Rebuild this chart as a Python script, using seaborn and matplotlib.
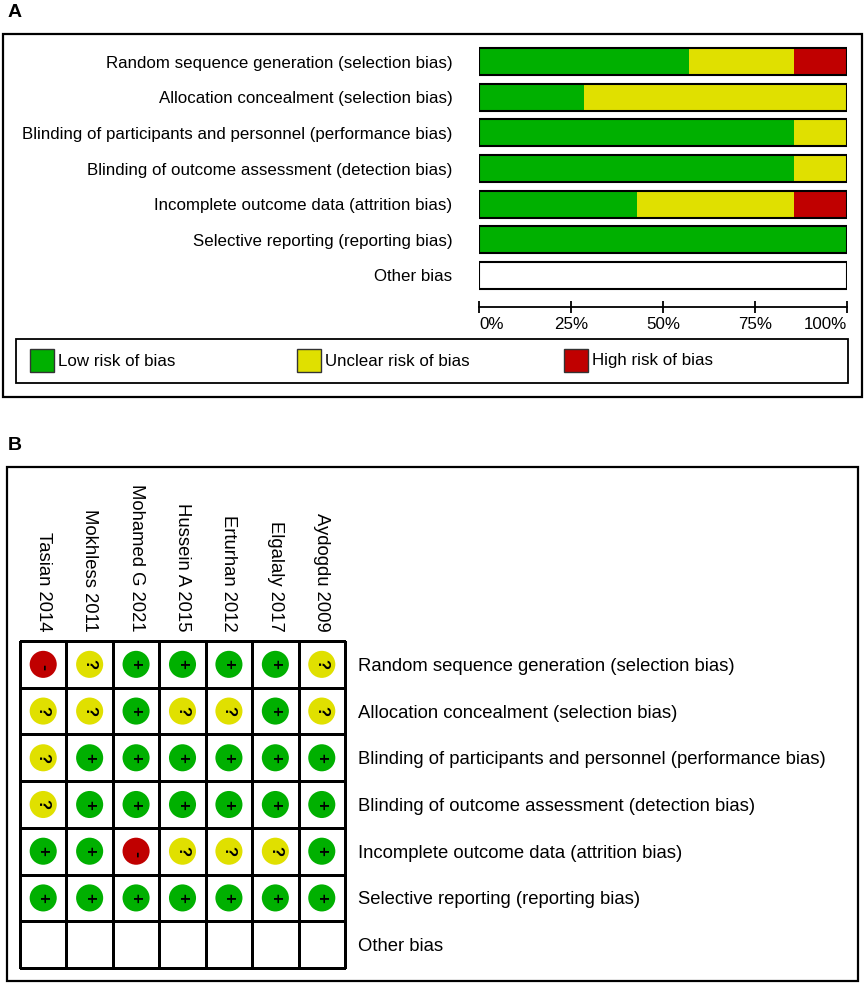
import numpy as np
import pandas as pd
import matplotlib
matplotlib.use("Agg")
import matplotlib.pyplot as plt
from matplotlib.patches import Rectangle
from matplotlib.colors import ListedColormap
import seaborn as sns

# risk of bias domains (rows) and included studies (columns)
domains = [
    "Random sequence generation (selection bias)",
    "Allocation concealment (selection bias)",
    "Blinding of participants and personnel (performance bias)",
    "Blinding of outcome assessment (detection bias)",
    "Incomplete outcome data (attrition bias)",
    "Selective reporting (reporting bias)",
    "Other bias",
]
studies = ["Tasian 2014", "Mokhless 2011", "Mohamed G 2021", "Hussein A 2015",
           "Erturhan 2012", "Elgalaly 2017", "Aydogdu 2009"]

# judgements per domain, one per study in the order above ("" = not assessed)
random_sequence = ["-", "?", "+", "+", "+", "+", "?"]
allocation = ["?", "?", "+", "?", "?", "+", "?"]
blinding_participants = ["?", "+", "+", "+", "+", "+", "+"]
blinding_outcome = ["?", "+", "+", "+", "+", "+", "+"]
incomplete_data = ["+", "+", "-", "?", "?", "?", "+"]
selective_reporting = ["+", "+", "+", "+", "+", "+", "+"]
other_bias = ["", "", "", "", "", "", ""]

judgements = [random_sequence, allocation, blinding_participants, blinding_outcome,
              incomplete_data, selective_reporting, other_bias]

legend_labels = ["Low risk of bias", "Unclear risk of bias", "High risk of bias"]
colors = {"+": "#00B000", "?": "#E0E000", "-": "#C00000"}

rows = []
for d, vals in zip(domains, judgements):
    for s, v in zip(studies, vals):
        rows.append({"domain": d, "study": s, "judgement": v})
df = pd.DataFrame(rows)

# share of studies per judgement in each domain
counts = pd.crosstab(df["domain"], df["judgement"]).reindex(domains)
for k in ["+", "?", "-"]:
    if k not in counts:
        counts[k] = 0
pct = counts[["+", "?", "-"]].div(len(studies)).mul(100).reset_index()
pct["low_unclear"] = pct["+"] + pct["?"]
pct["all"] = pct["low_unclear"] + pct["-"]

sns.set_theme(style="white")
plt.rcParams["font.family"] = ["Liberation Sans", "DejaVu Sans"]
plt.rcParams["text.color"] = "black"
plt.rcParams["xtick.color"] = "black"
plt.rcParams["ytick.color"] = "black"
plt.rcParams["axes.labelcolor"] = "black"

W, H = 864, 984
fig = plt.figure(figsize=(W / 100, H / 100), dpi=100)


def px_axes(x0, y0, x1, y1):
    return fig.add_axes([x0 / W, 1 - y1 / H, (x1 - x0) / W, (y1 - y0) / H])


canvas = fig.add_axes([0, 0, 1, 1])
canvas.set_xlim(0, W)
canvas.set_ylim(H, 0)
canvas.axis("off")

# panel frames and letters
canvas.add_patch(Rectangle((3, 34), 859, 363, fill=False, lw=1.6, ec="black"))
canvas.add_patch(Rectangle((7, 467), 851, 514, fill=False, lw=1.6, ec="black"))
canvas.text(8, 17, "A", fontsize=14, fontweight="bold", va="baseline")
canvas.text(8, 450, "B", fontsize=14, fontweight="bold", va="baseline")

# legend of panel A
canvas.add_patch(Rectangle((16, 339), 832, 44, fill=False, lw=1.3, ec="black"))
for x0, key, lab in zip([30, 297, 564], ["+", "?", "-"], legend_labels):
    canvas.add_patch(Rectangle((x0, 349), 24, 23, fc=colors[key], ec="#333333", lw=1))
    canvas.text(x0 + 28, 361, lab, fontsize=12.2, va="center", ha="left")

# ---- Panel A: stacked percentage bars
ax_a = px_axes(479, 44, 847, 293)
ax_a.set_facecolor("none")
sns.barplot(data=pct, y="domain", x="all", order=domains, color=colors["-"],
            orient="h", width=0.76, errorbar=None, saturation=1, linewidth=0, ax=ax_a)
sns.barplot(data=pct, y="domain", x="low_unclear", order=domains, color=colors["?"],
            orient="h", width=0.76, errorbar=None, saturation=1, linewidth=0, ax=ax_a)
sns.barplot(data=pct, y="domain", x="+", order=domains, color=colors["+"],
            orient="h", width=0.76, errorbar=None, saturation=1, linewidth=0, ax=ax_a)
ax_a.barh(np.arange(len(domains)), 100, height=0.76, facecolor="none",
          edgecolor="black", linewidth=1.5)
ax_a.set_xlim(0, 100)
ax_a.set_ylim(len(domains) - 0.5, -0.5)
ax_a.set_xlabel("")
ax_a.set_ylabel("")
for sp in ["top", "right", "left"]:
    ax_a.spines[sp].set_visible(False)
ax_a.spines["bottom"].set_position(("outward", 10))
ax_a.spines["bottom"].set_linewidth(1.3)
ax_a.spines["bottom"].set_color("black")
ax_a.set_xticks([0, 25, 50, 75, 100])
ax_a.set_xticklabels(["0%", "25%", "50%", "75%", "100%"])
ax_a.tick_params(axis="x", direction="inout", length=8, width=1.3, color="black",
                 labelsize=12.2, pad=3, bottom=True)
ax_a.tick_params(axis="y", length=0, labelsize=12.2, pad=19)
xl = ax_a.get_xticklabels()
xl[0].set_ha("left")
xl[-1].set_ha("right")

# ---- Panel B: judgement grid
ax_b = px_axes(20, 641, 345, 968)
ax_b.set_facecolor("none")
sns.heatmap(np.zeros((len(domains), len(studies))), cmap=ListedColormap(["white"]),
            cbar=False, linewidths=1.0, linecolor="black",
            xticklabels=studies, yticklabels=domains, ax=ax_b)
ax_b.collections[0].set_clip_on(False)

study_idx = {s: i for i, s in enumerate(studies)}
domain_idx = {d: i for i, d in enumerate(domains)}
marks = df[df["judgement"] != ""].copy()
marks["xpos"] = marks["study"].map(study_idx) + 0.5
marks["ypos"] = marks["domain"].map(domain_idx) + 0.5
sns.scatterplot(data=marks, x="xpos", y="ypos", hue="judgement", palette=colors,
                s=380, edgecolor="none", legend=False, ax=ax_b)
for _, r in marks.iterrows():
    sym = r["judgement"]
    ax_b.text(r["xpos"], r["ypos"] + (0.06 if sym == "-" else 0), sym, rotation=270,
              ha="center", va="center", fontsize=12 if sym != "-" else 13,
              fontweight="bold", color="black")

ax_b.set_xlabel("")
ax_b.set_ylabel("")
ax_b.xaxis.tick_top()
ax_b.yaxis.tick_right()
ax_b.tick_params(axis="x", length=0, pad=7, labelsize=13.3, labelrotation=270)
ax_b.tick_params(axis="y", length=0, pad=9, labelsize=13.3, labelrotation=0)
for t in ax_b.get_yticklabels():
    t.set_ha("left")
for t in ax_b.get_xticklabels():
    t.set_va("bottom")

fig.savefig("out.png", dpi=100)
